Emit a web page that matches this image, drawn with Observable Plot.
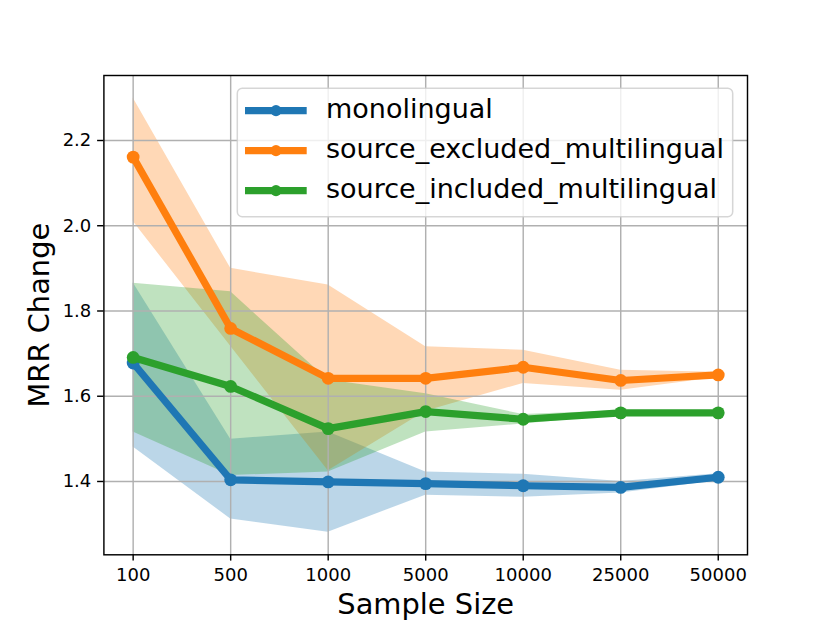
<!DOCTYPE html>
<html>
<head>
<meta charset="utf-8">
<script src="https://cdn.jsdelivr.net/npm/d3@7"></script>
<script src="https://cdn.jsdelivr.net/npm/@observablehq/plot@0.6"></script>
<style>
  html, body { margin: 0; padding: 0; background: #fff; }
  svg { display: block; }
</style>
</head>
<body>
<div id="chart"></div>
<script>
// ---- data ----
const sampleSizes = ["100", "500", "1000", "5000", "10000", "25000", "50000"];
const yTicks = [1.4, 1.6, 1.8, 2.0, 2.2];

const seriesNames = ["monolingual", "source_excluded_multilingual", "source_included_multilingual"];
const seriesColors = ["#1f77b4", "#ff7f0e", "#2ca02c"];

const mono     = [1.678, 1.404, 1.399, 1.395, 1.390, 1.386, 1.410];
const monoLow  = [1.481, 1.312, 1.281, 1.368, 1.363, 1.373, 1.402];
const monoHigh = [1.866, 1.499, 1.516, 1.422, 1.417, 1.400, 1.418];

const excl     = [2.161, 1.759, 1.642, 1.642, 1.668, 1.637, 1.650];
const exclLow  = [2.010, 1.717, 1.425, 1.565, 1.630, 1.614, 1.644];
const exclHigh = [2.300, 1.900, 1.861, 1.716, 1.708, 1.661, 1.656];

const incl     = [1.691, 1.623, 1.524, 1.564, 1.546, 1.561, 1.561];
const inclLow  = [1.516, 1.414, 1.422, 1.516, 1.535, 1.556, 1.556];
const inclHigh = [1.865, 1.845, 1.638, 1.606, 1.557, 1.566, 1.566];

// ---- build tables ----
const values = [mono, excl, incl];
const lows = [monoLow, exclLow, inclLow];
const highs = [monoHigh, exclHigh, inclHigh];
const idx = sampleSizes.map((_, i) => i);

const series = seriesNames.map((name, k) => ({
  name,
  color: seriesColors[k],
  rows: sampleSizes.map((label, i) => ({ i, label, v: values[k][i], lo: lows[k][i], hi: highs[k][i] }))
}));

const marks = [];
series.forEach(s => marks.push(
  Plot.areaY(s.rows, { x: "i", y1: "lo", y2: "hi", fill: s.color, fillOpacity: 0.3 })
));
marks.push(Plot.gridX(idx, { stroke: "#b0b0b0", strokeOpacity: 1, strokeWidth: 1.44 }));
marks.push(Plot.gridY(yTicks, { stroke: "#b0b0b0", strokeOpacity: 1, strokeWidth: 1.44 }));
series.forEach(s => {
  marks.push(Plot.lineY(s.rows, { x: "i", y: "v", stroke: s.color, strokeWidth: 7.2, strokeLinejoin: "round" }));
  marks.push(Plot.dot(s.rows, { x: "i", y: "v", r: 6.4, fill: s.color, stroke: "none" }));
});
marks.push(Plot.frame({ stroke: "black", strokeWidth: 1.44 }));
marks.push(Plot.axisX(idx, {
  tickFormat: i => sampleSizes[i], tickSize: 6.3, tickPadding: 7.3,
  fontSize: 18, label: null, strokeWidth: 1.44, stroke: "black"
}));
marks.push(Plot.axisY(yTicks, {
  tickFormat: d3.format(".1f"), tickSize: 6.3, tickPadding: 6.3,
  fontSize: 18, label: null, strokeWidth: 1.44, stroke: "black"
}));
marks.push(Plot.text(["Sample Size"], {
  text: d => d, frameAnchor: "bottom", dy: 50, fontSize: 28.9, lineAnchor: "middle"
}));
marks.push(Plot.text(["MRR Change"], {
  text: d => d, frameAnchor: "left", dx: -63.8, rotate: -90, fontSize: 28.9,
  lineAnchor: "middle", textAnchor: "middle"
}));

const svg = Plot.plot({
  width: 830,
  height: 623,
  marginLeft: 103.4,
  marginRight: 83,
  marginTop: 75,
  marginBottom: 68.7,
  x: { type: "linear", domain: [-0.3, 6.3] },
  y: { domain: [1.228, 2.3525] },
  style: { fontFamily: "DejaVu Sans", fontSize: "18px", color: "black", background: "white", overflow: "visible" },
  marks
});

// ---- legend ----
const lg = d3.select(svg).append("g")
  .attr("font-family", "DejaVu Sans")
  .attr("text-anchor", "start");
lg.append("rect")
  .attr("x", 237.3).attr("y", 88.3)
  .attr("width", 495.4).attr("height", 128.4)
  .attr("rx", 5).attr("ry", 5)
  .attr("fill", "white").attr("fill-opacity", 0.8)
  .attr("stroke", "#cccccc").attr("stroke-opacity", 0.8).attr("stroke-width", 1.5);
series.forEach((s, k) => {
  const cy = 110.6 + k * 40;
  lg.append("line")
    .attr("x1", 245).attr("x2", 306.7).attr("y1", cy).attr("y2", cy)
    .attr("stroke", s.color).attr("stroke-width", 7.2);
  lg.append("circle")
    .attr("cx", 276).attr("cy", cy).attr("r", 5.6).attr("fill", s.color);
  lg.append("text")
    .attr("x", 326).attr("y", cy + 7)
    .attr("text-anchor", "start")
    .attr("font-size", 27).attr("fill", "black")
    .text(s.name);
});

document.getElementById("chart").appendChild(svg);
</script>
</body>
</html>
